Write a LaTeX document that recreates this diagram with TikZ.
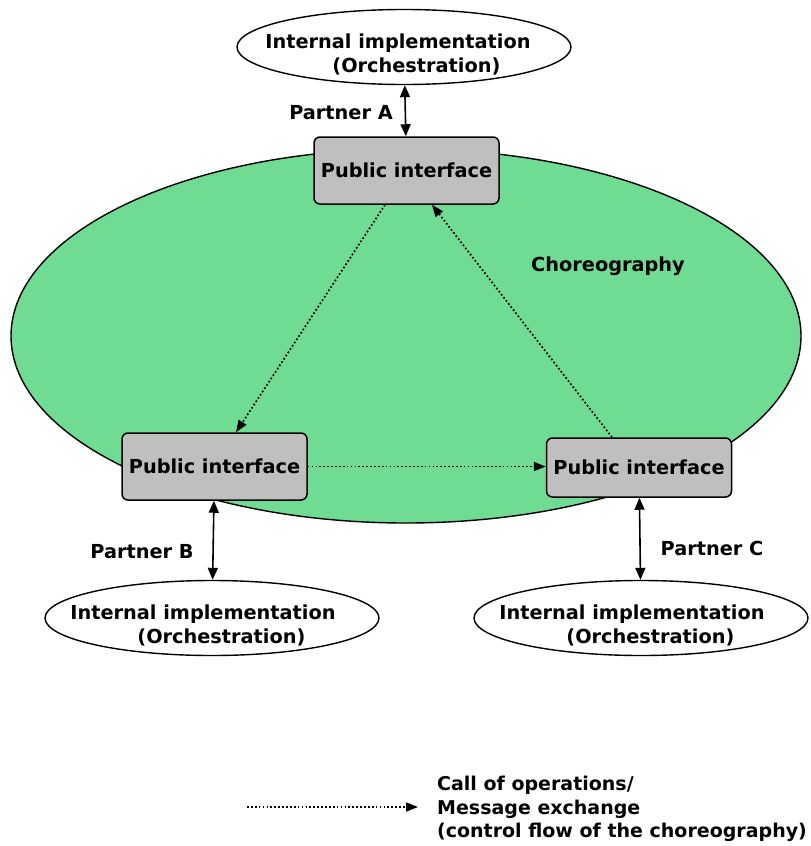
\documentclass[tikz,border=0pt]{standalone}
\usepackage{fontspec}
\setmainfont{DejaVu Sans}
\usetikzlibrary{arrows.meta,shapes.geometric}
\definecolor{choreogreen}{HTML}{70DB93}
\definecolor{ifacegray}{HTML}{BFBFBF}
\begin{document}
\begin{tikzpicture}[x=1pt,y=-1pt,
  lbl/.style={font=\bfseries\fontsize{19.3}{24}\selectfont, inner sep=0pt},
  implell/.style={draw, ellipse, line width=1.4pt, fill=white,
    minimum width=334pt, minimum height=75pt, inner sep=0pt},
  iface/.style={draw, line width=1.5pt, fill=ifacegray, rounded corners=6pt,
    minimum width=185pt, minimum height=67pt, inner sep=0pt,
    font=\bfseries\fontsize{19.3}{24}\selectfont},
  link/.style={line width=1.6pt, {Triangle[length=12pt,width=10pt]}-{Triangle[length=12pt,width=10pt]}},
  flow/.style={line width=1.7pt, dash pattern=on 1.7pt off 2.2pt, -{Triangle[length=12pt,width=9pt]}}]
\useasboundingbox (0,0) rectangle (811,846);

% choreography area
\node[draw, ellipse, line width=1.4pt, fill=choreogreen,
  minimum width=790pt, minimum height=374pt, inner sep=0pt] (chor) at (406,336) {};
\node[lbl] (chorlbl) at (608,266) {Choreography};

% internal implementations
\node[implell] (ellA) at (404,47) {};
\node[lbl, align=left] (txtA) at (398,54) {Internal implementation\\\hspace*{67pt}(Orchestration)};
\node[implell] (ellB) at (212,618) {};
\node[lbl, align=left] (txtB) at (203,625) {Internal implementation\\\hspace*{67pt}(Orchestration)};
\node[implell] (ellC) at (641,618) {};
\node[lbl, align=left] (txtC) at (632,625) {Internal implementation\\\hspace*{67pt}(Orchestration)};

% public interfaces
\node[iface] (boxA) at (406.5,170.5) {\raisebox{-1.5pt}{Public interface}};
\node[iface] (boxB) at (214.5,466.5) {\raisebox{-2pt}{Public interface}};
\node[iface, minimum height=59pt] (boxC) at (639,467.5) {\raisebox{-1pt}{Public interface}};

% partner links
\draw[link] (ellA) -- (boxA);
\draw[link] (boxB) -- (ellB);
\draw[link] (boxC) -- (ellC);
\node[lbl] (partA) at (341,113) {Partner A};
\node[lbl] (partB) at (142,552) {Partner B};
\node[lbl] (partC) at (712,548) {Partner C};

% message exchange
\draw[flow] ([xshift=-21.5pt]boxA.south) -- ([xshift=21.5pt]boxB.north);
\draw[flow] ([xshift=-27pt]boxC.north) -- ([xshift=25.5pt]boxA.south);
\draw[flow] (boxB.east) -- (boxB.east -| boxC.west);

% legend
\coordinate (legA) at (247,807);
\coordinate (legB) at (418,807);
\draw[flow] (legA) -- (legB);
\node[lbl, align=left, anchor=west, font=\bfseries\fontsize{19}{23.5}\selectfont] (legtxt) at (437,809)
  {Call of operations/\\Message exchange\\(control flow of the choreography)};
\end{tikzpicture}
\end{document}
